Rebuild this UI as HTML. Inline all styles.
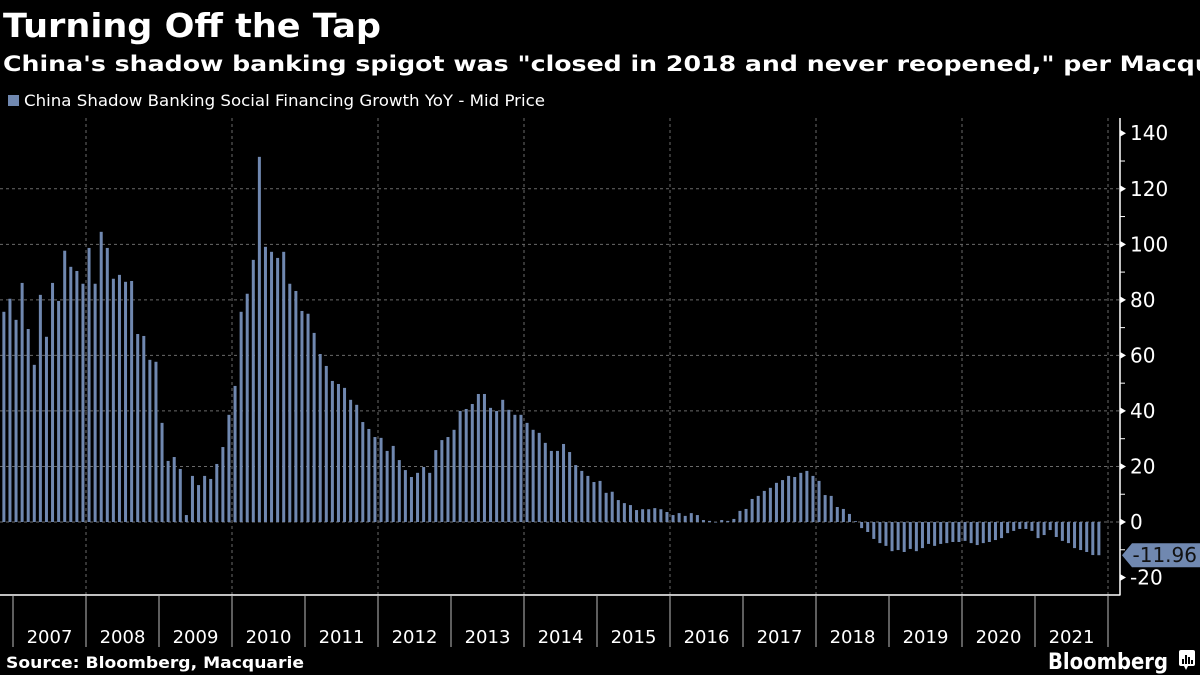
<!DOCTYPE html>
<html><head><meta charset="utf-8"><style>
html,body{margin:0;padding:0;background:#000;}
svg{display:block;}
</style></head><body>
<svg id="chart" width="1200" height="675" viewBox="0 0 1200 675" xmlns="http://www.w3.org/2000/svg">
<rect x="0" y="0" width="1200" height="675" fill="#000"/>
<text x="3" y="37" fill="#fff" font-family="DejaVu Sans, Liberation Sans, sans-serif" font-weight="bold" font-size="33" textLength="378" lengthAdjust="spacingAndGlyphs">Turning Off the Tap</text>
<text x="3" y="71" fill="#fff" font-family="DejaVu Sans, Liberation Sans, sans-serif" font-weight="bold" font-size="21" textLength="1265" lengthAdjust="spacingAndGlyphs">China's shadow banking spigot was "closed in 2018 and never reopened," per Macquarie</text>
<rect x="8" y="95" width="11" height="11" fill="#7088b0"/>
<text x="24" y="106" fill="#fff" font-family="DejaVu Sans, Liberation Sans, sans-serif" font-size="16" textLength="521" lengthAdjust="spacingAndGlyphs">China Shadow Banking Social Financing Growth YoY - Mid Price</text>
<g id="grid"></g>
<g id="bars"></g>
<g id="axes"></g>
<text x="6" y="668" fill="#fff" font-family="DejaVu Sans, Liberation Sans, sans-serif" font-weight="bold" font-size="16" textLength="298" lengthAdjust="spacingAndGlyphs">Source: Bloomberg, Macquarie</text>
<text x="1048" y="669" fill="#fff" font-family="DejaVu Sans, Liberation Sans, sans-serif" font-weight="bold" font-size="22" textLength="120" lengthAdjust="spacingAndGlyphs">Bloomberg</text>
<g>
<rect x="1179" y="650" width="16" height="16" rx="2" fill="#fff"/>
<polygon points="1184,666 1188,666 1186,670" fill="#fff"/>
<rect x="1182" y="659" width="2" height="5" fill="#000"/><rect x="1185" y="655" width="2" height="9" fill="#000"/><rect x="1188" y="657" width="2" height="7" fill="#000"/><rect x="1191" y="660" width="2" height="4" fill="#000"/>
</g>
</svg>
<script>
const firstMonthOffset = -2; // Nov 2006 relative to Jan 2007
const years = ["2007","2008","2009","2010","2011","2012","2013","2014","2015","2016","2017","2018","2019","2020","2021"];
const yTicks = [-20,0,20,40,60,80,100,120,140];
const lastLabel = "-11.96";
const values = [
75.7,80.4,72.8,86.1,69.5,56.6,81.8,66.7,86.1,79.6,97.7,91.9,90.4,85.8,98.7,85.8,104.5,98.7,87.6,89.0,86.5,86.8,67.7,67.0,58.4,57.7,35.7,22.0,23.4,19.1,2.5,16.6,13.3,16.6,15.5,20.9,27.0,38.6,49.0,75.7,
82.2,94.4,131.5,99.1,97.3,95.1,97.3,85.8,83.2,76.0,75.0,68.1,60.5,56.2,50.8,49.7,48.3,44.0,42.2,36.0,33.5,30.6,30.3,25.6,27.4,22.3,18.7,16.2,17.7,19.8,17.7,25.9,
29.5,30.6,33.2,40.0,40.7,42.5,46.1,46.1,41.1,40.0,44.0,40.4,38.6,38.6,35.7,33.2,32.1,28.5,25.6,25.6,28.1,25.2,20.5,18.4,16.6,14.4,14.8,10.5,10.9,7.9,6.8,6.1,4.3,4.6,4.6,5.0,4.6,3.6,2.5,3.2,2.2,3.2,2.5,0.7,0.4,-0.2,0.7,
0.4,1.1,4.0,4.7,8.3,9.4,11.2,12.3,14.1,15.1,16.6,16.2,17.7,18.4,16.6,14.8,9.7,9.4,5.4,4.7,2.9,0.3,-2.2,-3.6,-6.1,-7.6,-8.6,-10.5,-10.1,-10.8,-9.7,-10.5,-9.4,-7.9,-8.6,-7.9,-7.6,-7.2,-7.2,-6.8,-7.6,-8.3,-7.6,-7.2,-6.5,-5.8,-4.0,-3.2,-2.5,-2.5,-3.2,-5.8,-4.7,-2.9,-5.4,-6.8,-7.6,-9.4,-10.1,-10.8,-11.9,-11.96
];

const NS="http://www.w3.org/2000/svg";
const X0=13, YEARW=73, AXX=1120, PLOT_TOP=118, PLOT_BOT=595;
const Y0PX=522, PXPER=2.7768;
function yScale(v){return Y0PX - v*PXPER;}
function xMonth(m){return X0 + (m+0.5)*YEARW/12;}
function xYear(i){return X0 + i*YEARW;}
function mk(tag,attrs,parent){const e=document.createElementNS(NS,tag);for(const k in attrs)e.setAttribute(k,attrs[k]);parent.appendChild(e);return e;}

const grid=document.getElementById('grid'), bars=document.getElementById('bars'), axes=document.getElementById('axes');
yTicks.forEach(t=>{
  if(t<-10||t>130) return;
  const g=mk('line',{x1:0,x2:AXX,y1:yScale(t),y2:yScale(t),stroke:'#6a6a6a','stroke-width':1,'stroke-dasharray':'3,3'},grid);
  
  
});
for(let i=1;i<=years.length;i+=2){
  const g=mk('line',{x1:xYear(i),x2:xYear(i),y1:PLOT_TOP,y2:PLOT_BOT,stroke:'#6a6a6a','stroke-width':1,'stroke-dasharray':'3,3'},grid);
  
  
}
values.forEach((v,i)=>{
  const cx=xMonth(firstMonthOffset+i);
  const y1=yScale(Math.max(v,0)), y2=yScale(Math.min(v,0));
  const r=mk('rect',{x:cx-1.5,y:y1,width:3,height:Math.max(y2-y1,0.5),fill:'#7088b0'},bars);
  
  
});
let a=mk('line',{x1:AXX,x2:AXX,y1:PLOT_TOP,y2:PLOT_BOT+0.5,stroke:'#fff','stroke-width':1.5},axes);


a=mk('line',{x1:0,x2:AXX,y1:PLOT_BOT,y2:PLOT_BOT,stroke:'#fff','stroke-width':1.5},axes);


for(let t=-20;t<=140;t+=10){
  const y=yScale(t);
  if(t%20===0){
    const p=mk('polygon',{points:`${AXX},${y-3.5} ${AXX+6},${y} ${AXX},${y+3.5}`,fill:'#fff'},axes);
    
    
    const tx=mk('text',{x:AXX+10,y:y+7,fill:'#fff','font-family':'DejaVu Sans, Liberation Sans, sans-serif','font-size':20},axes);
    tx.textContent=(t<0?'-':'')+Math.abs(t);
    
    
  } else {
    const l=mk('line',{x1:AXX,x2:AXX+5,y1:y,y2:y,stroke:'#fff','stroke-width':1},axes);
    
    
  }
}
for(let i=0;i<=years.length;i++){
  const l=mk('line',{x1:xYear(i),x2:xYear(i),y1:PLOT_BOT,y2:647,stroke:'#bbb','stroke-width':1},axes);
  
  
}
years.forEach((yr,i)=>{
  const tx=mk('text',{x:xYear(i)+YEARW/2,y:643,fill:'#fff','text-anchor':'middle','font-family':'DejaVu Sans, Liberation Sans, sans-serif','font-size':18},axes);
  tx.textContent=yr;
  
  
});
const lv=values[values.length-1], ly=yScale(lv);
const c=mk('polygon',{points:`${AXX+2},${ly} ${AXX+12},${ly-12} 1200,${ly-12} 1200,${ly+12} ${AXX+12},${ly+12}`,fill:'#7088b0'},axes);


const ct=mk('text',{x:1197,y:ly+7,fill:'#111','text-anchor':'end','font-family':'DejaVu Sans, Liberation Sans, sans-serif','font-size':20},axes);
ct.textContent=lastLabel;


</script>
</body></html>
